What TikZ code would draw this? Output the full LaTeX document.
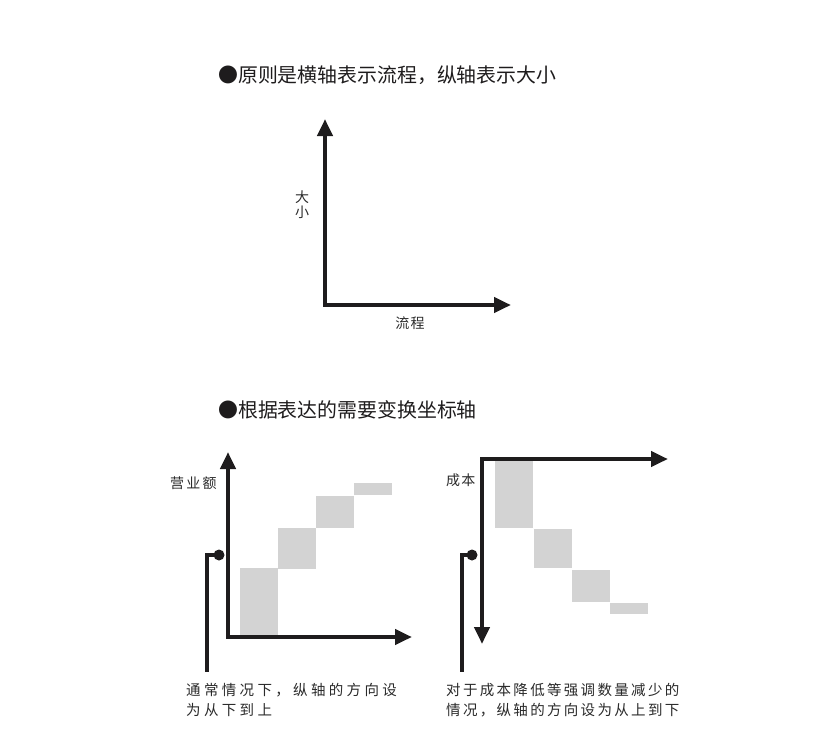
\documentclass[tikz,border=0pt]{standalone}
\usepackage{fontspec}
\newfontfamily\cjk{Noto Sans CJK SC}
\usetikzlibrary{arrows.meta}
\definecolor{ink}{HTML}{1E1C1D}
\definecolor{txt}{HTML}{2A2A2A}
\definecolor{bar}{HTML}{D3D3D3}
\tikzset{
  axis/.style={draw=ink, line width=4.2pt, line join=miter,
    {Triangle[length=17pt,width=15pt]}-{Triangle[length=17pt,width=15pt]}},
  callout/.style={draw=ink, line width=4pt},
  dotmark/.style={circle, fill=ink, inner sep=0pt, minimum size=11pt},
  barbox/.style={fill=bar, draw=none},
  titletext/.style={inner sep=0pt, anchor=west, text=ink, font=\cjk\fontsize{19.9}{22}\selectfont},
  lbl/.style={inner sep=0pt, text=txt, font=\cjk\fontsize{14}{15}\selectfont},
  captext/.style={inner sep=0pt, anchor=north west, align=left, text=txt}
}
\begin{document}
\begin{tikzpicture}[x=1pt,y=-1pt]
\useasboundingbox (0,0) rectangle (815,750);
% titles
\node[titletext] (t1) at (218,75) {●原则是横轴表示流程，纵轴表示大小};
\node[titletext] (t2) at (218,410) {●根据表达的需要变换坐标轴};
% top chart
\coordinate (a1) at (325,119);
\coordinate (o1) at (325,305);
\coordinate (b1) at (511,305);
\draw[axis] (a1) -- (o1) -- (b1);
\node[lbl] (v1) at (302,197) {大};
\node[lbl] (v2) at (302,212) {小};
\node[lbl, font=\cjk\fontsize{14}{15}\selectfont\addfontfeature{LetterSpace=10}] (h1) at (410,323) {流程};
% bottom left chart
\fill[barbox] (240,568) rectangle (278,636);
\fill[barbox] (278,528) rectangle (316,569);
\fill[barbox] (316,496) rectangle (354,528);
\fill[barbox] (354,483) rectangle (392,495);
\coordinate (a2) at (228,452);
\coordinate (o2) at (228,637);
\coordinate (b2) at (412,637);
\draw[axis] (a2) -- (o2) -- (b2);
\node[lbl, anchor=west, font=\cjk\fontsize{14}{15}\selectfont\addfontfeature{LetterSpace=16}] (y2) at (170,483) {营业额};
\node[dotmark] (d2) at (219,555) {};
\coordinate (k2) at (207,555);
\coordinate (e2) at (207,672);
\draw[callout] (d2.center) -- (k2) -- (e2);
\node[captext, font=\cjk\fontsize{14.5}{20}\selectfont\addfontfeature{LetterSpace=23}] (c2) at (186,683) {通常情况下，纵轴的方向设\\为从下到上};
% bottom right chart
\fill[barbox] (495,460) rectangle (533,528);
\fill[barbox] (534,529) rectangle (572,568);
\fill[barbox] (572,570) rectangle (610,602);
\fill[barbox] (610,603) rectangle (648,614);
\coordinate (a3) at (668,459);
\coordinate (o3) at (482,459);
\coordinate (b3) at (482,644);
\draw[axis] (a3) -- (o3) -- (b3);
\node[lbl, anchor=west, font=\cjk\fontsize{14}{15}\selectfont\addfontfeature{LetterSpace=8}] (y3) at (446,480) {成本};
\node[dotmark] (d3) at (472,555) {};
\coordinate (k3) at (462,555);
\coordinate (e3) at (462,672);
\draw[callout] (d3.center) -- (k3) -- (e3);
\node[captext, font=\cjk\fontsize{14.5}{20}\selectfont\addfontfeature{LetterSpace=16}] (c3) at (446,683) {对于成本降低等强调数量减少的\\情况，纵轴的方向设为从上到下};
\end{tikzpicture}
\end{document}
